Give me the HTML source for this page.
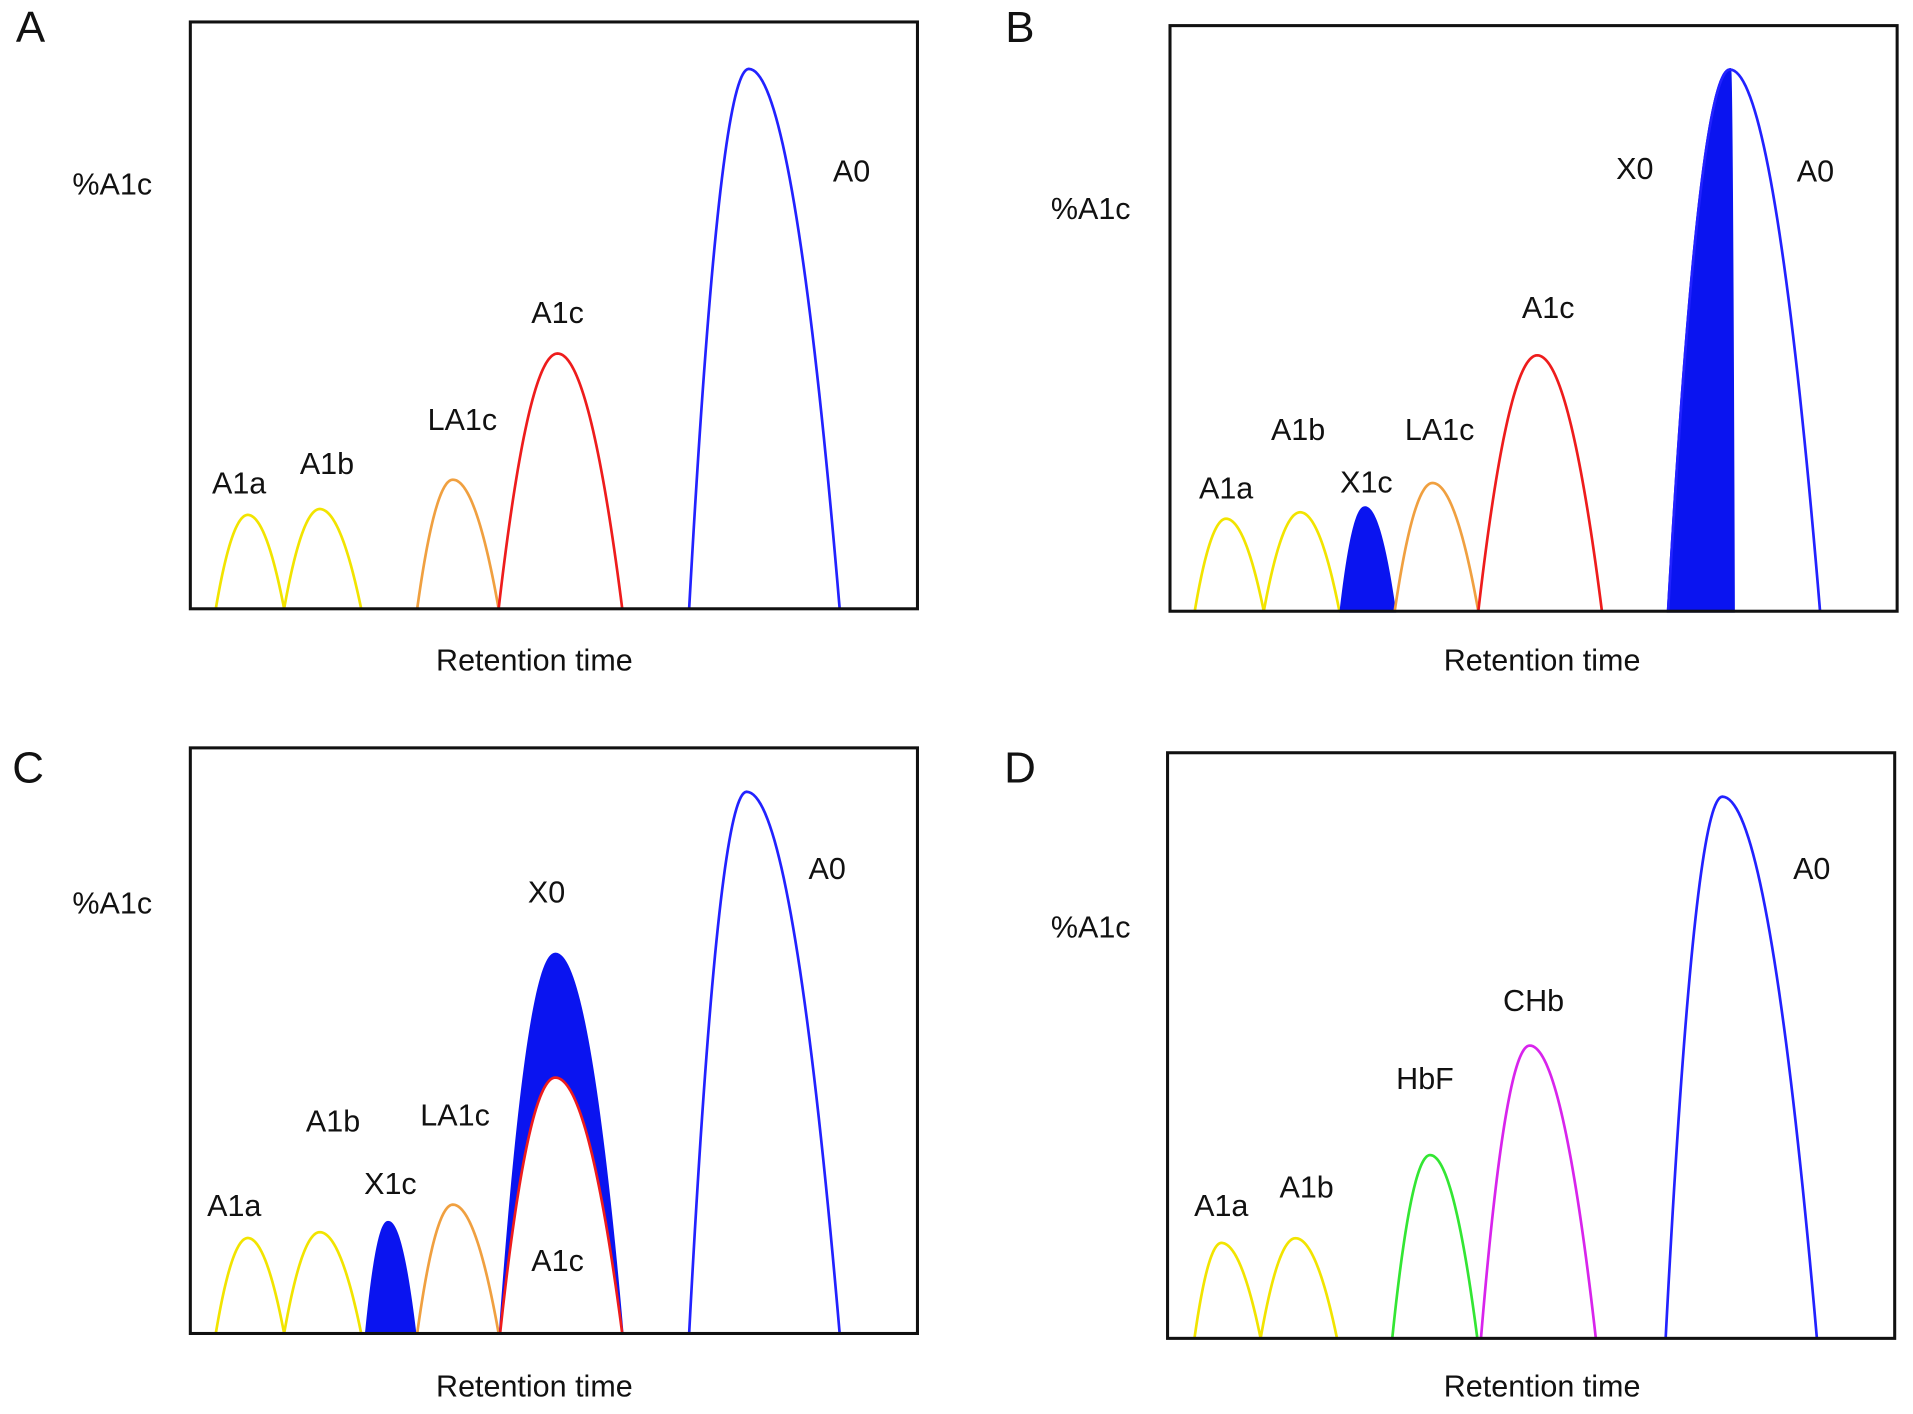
<!DOCTYPE html>
<html><head><meta charset="utf-8"><style>
html,body{margin:0;padding:0;background:#fff}
svg{display:block}
text{font-family:"Liberation Sans",sans-serif;fill:#111}
</style></head><body>
<svg id="chart" width="1913" height="1414" viewBox="0 0 1568 1159" xmlns="http://www.w3.org/2000/svg"></svg>
<script>
const panelIds = ["A","B","C","D"];
const namesA = ["A1a","A1b","LA1c","A1c","A0"];
const startA = [3.5,12.9,31.2,42.4,68.6];
const endA   = [12.9,23.5,42.4,59.4,89.3];
const peakA  = [7.9,17.8,36.1,50.5,76.8];
const heightA= [16,17,22,43.5,92];
const namesB = ["A1a","A1b","X1c","LA1c","A1c","X0","A0"];
const startB = [3.4,12.9,23.5,30.9,42.4,68.5,68.5];
const endB   = [12.9,23.3,30.9,42.4,59.4,77.5,89.4];
const peakB  = [7.7,17.9,26.8,36.1,50.5,77,77];
const heightB= [15.8,16.9,17.7,21.9,43.7,92.5,92.5];
const namesC = ["A1a","A1b","X1c","LA1c","X0","A1c","A0"];
const startC = [3.5,12.9,24.2,31.2,42.6,42.6,68.6];
const endC   = [12.9,23.5,30.9,42.4,59.4,59.4,89.3];
const peakC  = [7.9,17.8,27.2,36.1,50.2,50.2,76.5];
const heightC= [16.3,17.3,19,22,64.8,43.7,92.5];
const namesD = ["A1a","A1b","HbF","CHb","A0"];
const startD = [3.7,12.8,30.9,43.1,68.5];
const endD   = [12.8,23.3,42.6,58.9,89.3];
const peakD  = [7.4,17.6,36.1,49.8,76.3];
const heightD= [16.3,17.1,31.3,50,92.5];

const colors = {A1a:"#f2e400",A1b:"#f2e400",LA1c:"#f0a040",A1c:"#ee1c1c",A0:"#2222ff",X0:"#0a14f0",X1c:"#0a14f0",HbF:"#33e633",CHb:"#d824ec"};
const filled = {X0:true,X1c:true};

const panels = [
 {id:"A",box:[156,18,752,499],n:namesA,s:startA,e:endA,p:peakA,h:heightA,white:{},
  lbl:{A1a:[196,398],A1b:[268,382],LA1c:[379,346],A1c:[457,258],A0:[698,142]},yl:[92,153],xl:[438,543],pl:[25,25]},
 {id:"B",box:[959,21,1555,501],n:namesB,s:startB,e:endB,p:peakB,h:heightB,white:{},
  lbl:{A1a:[1005,402],A1b:[1064,354],X1c:[1120,397],LA1c:[1180,354],A1c:[1269,254],X0:[1340,140],A0:[1488,142]},yl:[894,173],xl:[1264,543],pl:[836,25]},
 {id:"C",box:[156,613,752,1093],n:namesC,s:startC,e:endC,p:peakC,h:heightC,white:{A1c:true},
  lbl:{A1a:[192,990],A1b:[273,921],X1c:[320,972],LA1c:[373,916],X0:[448,733],A1c:[457,1035],A0:[678,714]},yl:[92,742],xl:[438,1138],pl:[23,632]},
 {id:"D",box:[957,617,1553,1097],n:namesD,s:startD,e:endD,p:peakD,h:heightD,white:{},
  lbl:{A1a:[1001,990],A1b:[1071,975],HbF:[1168,886],CHb:[1257,822],A0:[1485,714]},yl:[894,762],xl:[1264,1138],pl:[836,632]}
];
const svg=document.getElementById("chart");
const NS="http://www.w3.org/2000/svg";
function mk(tag,attrs){const el=document.createElementNS(NS,tag);for(const k in attrs)el.setAttribute(k,attrs[k]);return el;}
function txt(x,y,s,size,anchor){const t=mk("text",{x:x,y:y,"font-size":size,"text-anchor":anchor||"middle","dominant-baseline":"middle"});t.textContent=s;return t;}

panels.forEach(P=>{
  const [x0,y0,x1,y1]=P.box;
  const g=mk("g",{});
  
  
  svg.appendChild(g);
  const xs=v=>x0+(x1-x0)*v/100;
  const ys=v=>y1-(y1-y0)*v/100;
  P.n.forEach((name,i)=>{
    const a=xs(P.s[i]),b=xs(P.e[i]),c=xs(P.p[i]),top=ys(P.h[i]),hh=y1-top;
    let pts=[];
    const N=40;
    for(let k=0;k<=N;k++){const x=a+(c-a)*k/N;const t=(x-c)/(c-a||1);pts.push([x,y1-hh*(1-t*t)]);}
    for(let k=1;k<=N;k++){const x=c+(b-c)*k/N;const t=(x-c)/(b-c||1);pts.push([x,y1-hh*(1-t*t)]);}
    let d="M"+pts.map(q=>q[0].toFixed(2)+","+q[1].toFixed(2)).join(" L");
    const f=filled[name], w=P.white[name];
    if(f||w)d+=" Z";
    const path=mk("path",{d:d,fill:f?colors[name]:(w?"#fff":"none"),stroke:colors[name],"stroke-width":2.2});
    
    
    g.appendChild(path);
  });
  const r=mk("rect",{x:x0,y:y0,width:x1-x0,height:y1-y0,fill:"none",stroke:"#111","stroke-width":2.5});
  
  
  g.appendChild(r);
  for(const name in P.lbl){
    const t=txt(P.lbl[name][0],P.lbl[name][1],name,25);
    
    
    g.appendChild(t);
  }
  const yl=txt(P.yl[0],P.yl[1],"%A1c",25);
  
  
  g.appendChild(yl);
  const xl=txt(P.xl[0],P.xl[1],"Retention time",25);
  
  
  g.appendChild(xl);
  const pl=txt(P.pl[0],P.pl[1],P.id,36);
  
  
  g.appendChild(pl);
});
</script>
</body></html>
